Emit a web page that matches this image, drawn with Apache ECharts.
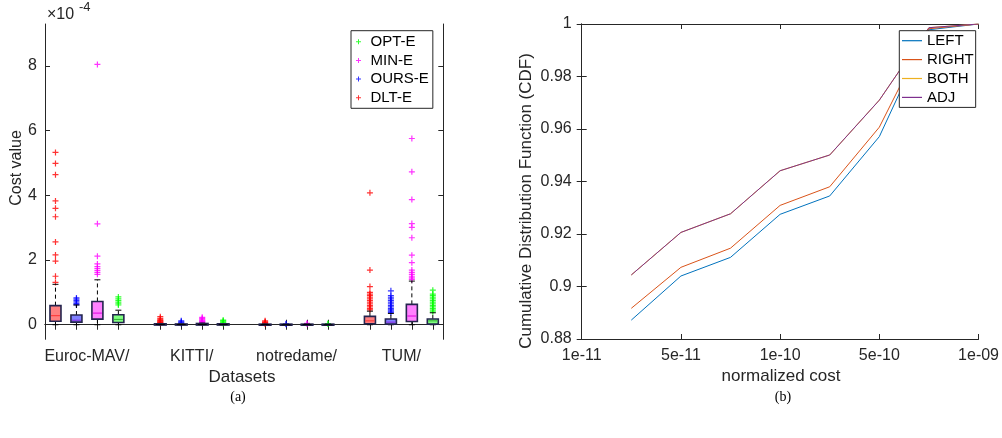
<!DOCTYPE html>
<html><head><meta charset="utf-8">
<script src="https://cdn.jsdelivr.net/npm/echarts@6/dist/echarts.min.js"></script>
<style>html,body{margin:0;padding:0;background:#fff}#c{width:1002px;height:438px}</style>
</head><body><div id="c"></div>
<script>
// ---------- Left panel (a): box plots, values in units of 1e-4 ----------
const DATASETS = ['Euroc-MAV/', 'KITTI/', 'notredame/', 'TUM/'];
const METHODS = ['DLT-E', 'OURS-E', 'MIN-E', 'OPT-E'];          // order inside each group
const LEGEND_A = ['OPT-E', 'MIN-E', 'OURS-E', 'DLT-E'];
const Y_TICKS_A = [0, 2, 4, 6, 8];
const Y_EXP_LABEL = '-4';

// [min, q1, median, q3, max] per dataset
const DLT_STATS  = [[0, 0.11, 0.28, 0.59, 1.25], [0, 0, 0.01, 0.02, 0.04], [0, 0, 0.005, 0.01, 0.02], [0, 0.03, 0.12, 0.26, 0.42]];
const OURS_STATS = [[0, 0.08, 0.14, 0.30, 0.61], [0, 0, 0.005, 0.015, 0.03], [0, 0, 0, 0.01, 0.01], [0, 0.02, 0.08, 0.18, 0.35]];
const MIN_STATS  = [[0, 0.175, 0.36, 0.72, 1.39], [0, 0, 0.01, 0.03, 0.05], [0, 0, 0.005, 0.01, 0.02], [0, 0.10, 0.27, 0.63, 1.35]];
const OPT_STATS  = [[0, 0.07, 0.165, 0.31, 0.45], [0, 0, 0.005, 0.02, 0.03], [0, 0, 0, 0.01, 0.01], [0, 0.02, 0.12, 0.18, 0.37]];

// outliers per dataset
const DLT_OUT = [
  [1.31, 1.5, 1.97, 2.16, 2.56, 3.34, 3.6, 3.83, 4.64, 4.99, 5.33],
  [0.05, 0.07, 0.09, 0.11, 0.13, 0.16, 0.2, 0.25],
  [0.03, 0.05, 0.07, 0.09, 0.12],
  [0.46, 0.5, 0.55, 0.6, 0.65, 0.7, 0.75, 0.8, 0.85, 0.9, 0.95, 1.0, 1.18, 1.69, 4.08]
];
const OURS_OUT = [
  [0.62, 0.66, 0.71, 0.75, 0.79, 0.83],
  [0.04, 0.06, 0.09, 0.12],
  [0.015, 0.03],
  [0.38, 0.42, 0.46, 0.5, 0.55, 0.6, 0.65, 0.7, 0.75, 0.8, 0.85, 0.9, 1.05]
];
const MIN_OUT = [
  [1.56, 1.62, 1.68, 1.74, 1.8, 1.88, 2.12, 3.12, 8.05],
  [0.06, 0.08, 0.1, 0.12, 0.14, 0.17, 0.2, 0.23],
  [0.03, 0.04],
  [1.4, 1.45, 1.5, 1.56, 1.62, 1.69, 1.92, 2.15, 2.69, 3.01, 3.13, 3.87, 4.73, 5.76]
];
const OPT_OUT = [
  [0.61, 0.65, 0.7, 0.75, 0.8, 0.86],
  [0.04, 0.06, 0.09, 0.12, 0.14],
  [0.02, 0.035],
  [0.4, 0.45, 0.5, 0.55, 0.6, 0.65, 0.7, 0.75, 0.8, 0.85, 0.9, 0.95, 1.07]
];

// ---------- Right panel (b): CDF curves ----------
const X_TICK_LABELS = ['1e-11', '5e-11', '1e-10', '5e-10', '1e-09'];
const X_POS = [0.5, 1, 1.5, 2, 2.5, 3, 3.5, 4];
const LEFT  = [0.8872, 0.9040, 0.9111, 0.9275, 0.9345, 0.9571, 0.9978, 1.0];
const RIGHT = [0.8917, 0.9073, 0.9146, 0.9309, 0.9380, 0.9607, 0.9982, 1.0];
const BOTH  = [0.9044, 0.9206, 0.9277, 0.9441, 0.9501, 0.9710, 0.9986, 1.0];
const ADJ   = [0.9044, 0.9206, 0.9277, 0.9441, 0.9501, 0.9710, 0.9986, 1.0];
const CDF_NAMES = ['LEFT', 'RIGHT', 'BOTH', 'ADJ'];

// ---------- styles ----------
const FONT = 'Liberation Sans, Arial, Helvetica, sans-serif';
const AX = '#262626';
const PLUS = 'path://M2,0H3V2H5V3H3V5H2V3H0V2H2Z';
const LINE_ICON = 'path://M0,0H20V1.2H0Z';
const STYLE_A = {
  'DLT-E':  { color: '#ff0000', fill: '#ff8080', med: '#ff3030' },
  'OURS-E': { color: '#0000ff', fill: '#8080ff', med: '#8a2be2' },
  'MIN-E':  { color: '#ff00ff', fill: '#ff80ff', med: '#e000e0' },
  'OPT-E':  { color: '#00ff00', fill: '#80ff80', med: '#30b030' }
};
const BORDER = '#24244e';
const LINE_COLORS = ['#0072BD', '#D95319', '#EDB120', '#7E2F8E'];

const STATS = { 'DLT-E': DLT_STATS, 'OURS-E': OURS_STATS, 'MIN-E': MIN_STATS, 'OPT-E': OPT_STATS };
const OUTS = { 'DLT-E': DLT_OUT, 'OURS-E': OURS_OUT, 'MIN-E': MIN_OUT, 'OPT-E': OPT_OUT };

const posOf = (d, m) => 1 + 5 * d + m;
const BOX_POS = [];
DATASETS.forEach((_, d) => METHODS.forEach((_, m) => BOX_POS.push(posOf(d, m))));
const GROUP_CENTER = DATASETS.map((_, d) => posOf(d, 1.5));

function makeRender(st) {
  return function (params, api) {
    const x = api.value(0);
    const pMin = api.coord([x, api.value(1)]);
    const pQ1 = api.coord([x, api.value(2)]);
    const pMed = api.coord([x, api.value(3)]);
    const pQ3 = api.coord([x, api.value(4)]);
    const pMax = api.coord([x, api.value(5)]);
    const cx = pMin[0];
    const hw = 5.5, cw = 3;
    const dash = { stroke: '#000', lineWidth: 1, lineDash: [4, 3] };
    const solid = { stroke: '#000', lineWidth: 1 };
    const h = pQ1[1] - pQ3[1];
    return {
      type: 'group', children: [
        { type: 'line', shape: { x1: cx, y1: pQ3[1], x2: cx, y2: pMax[1] }, style: dash },
        { type: 'line', shape: { x1: cx, y1: pQ1[1], x2: cx, y2: pMin[1] }, style: dash },
        { type: 'line', shape: { x1: cx - cw, y1: pMax[1], x2: cx + cw, y2: pMax[1] }, style: solid },
        { type: 'line', shape: { x1: cx - cw, y1: pMin[1], x2: cx + cw, y2: pMin[1] }, style: solid },
        { type: 'rect', shape: { x: cx - hw, y: pQ3[1], width: 2 * hw, height: Math.max(h, 0.5) },
          style: { fill: h < 2 ? '#000' : st.fill, stroke: BORDER, lineWidth: h < 2 ? 2.2 : 1.6 } },
        { type: 'line', shape: { x1: cx - hw + 1, y1: pMed[1], x2: cx + hw - 1, y2: pMed[1] }, style: { stroke: h < 2 ? '#000' : st.med, lineWidth: 1 } }
      ]
    };
  };
}

const series = [];
METHODS.forEach((name, m) => {
  const st = STYLE_A[name];
  const pts = [];
  OUTS[name].forEach((arr, d) => arr.forEach(v => pts.push([posOf(d, m), v])));
  series.push({
    type: 'scatter', name: name, xAxisIndex: 0, yAxisIndex: 0,
    symbol: PLUS, symbolSize: 6, itemStyle: { color: st.color },
    data: pts, z: 2
  });
});
METHODS.forEach((name, m) => {
  const st = STYLE_A[name];
  series.push({
    type: 'custom', name: name, xAxisIndex: 0, yAxisIndex: 0,
    renderItem: makeRender(st),
    itemStyle: { color: st.color },
    encode: { x: 0, y: [1, 2, 3, 4, 5] },
    data: STATS[name].map((s, d) => [posOf(d, m)].concat(s)),
    z: 3
  });
});
[LEFT, RIGHT, BOTH, ADJ].forEach((arr, i) => {
  series.push({
    type: 'line', name: CDF_NAMES[i], xAxisIndex: 2, yAxisIndex: 2,
    symbol: 'none', lineStyle: { color: LINE_COLORS[i], width: 1 }, itemStyle: { color: LINE_COLORS[i] },
    data: X_POS.map((x, k) => [x, arr[k]]), z: 2 + i * 0.01
  });
});

const axLine = { show: true, lineStyle: { color: AX, width: 1 } };
const tickIn = (extra) => Object.assign({ show: true, inside: true, length: 5, lineStyle: { color: AX } }, extra || {});
const lbl = (extra) => Object.assign({ color: AX, fontFamily: FONT, fontSize: 16 }, extra || {});

const option = {
  animation: false,
  backgroundColor: '#fff',
  textStyle: { fontFamily: FONT },
  grid: [
    { left: 45, right: 558.7, top: 24, bottom: 98.7 },
    { left: 581.7, right: 22, top: 24, bottom: 99 }
  ],
  xAxis: [
    { type: 'value', gridIndex: 0, position: 'bottom', min: 0.5, max: 19.5, axisLine: axLine, splitLine: { show: false },
      axisTick: tickIn({ customValues: BOX_POS }),
      axisLabel: lbl({ margin: 9, customValues: GROUP_CENTER, formatter: v => DATASETS[Math.round((v - 2.5) / 5)] }) },
    { type: 'value', gridIndex: 0, position: 'top', min: 0.5, max: 19.5, axisLine: axLine, splitLine: { show: false },
      axisTick: tickIn({ customValues: BOX_POS }), axisLabel: { show: false } },
    { type: 'value', gridIndex: 1, position: 'bottom', min: 0, max: 4, interval: 1, axisLine: axLine, splitLine: { show: false },
      axisTick: tickIn(), axisLabel: lbl({ margin: 9, formatter: v => X_TICK_LABELS[Math.round(v)] }) },
    { type: 'value', gridIndex: 1, position: 'top', min: 0, max: 4, interval: 1, axisLine: axLine, splitLine: { show: false },
      axisTick: tickIn(), axisLabel: { show: false } }
  ],
  yAxis: [
    { type: 'value', gridIndex: 0, position: 'left', min: -0.45, max: 9.3, axisLine: axLine, splitLine: { show: false },
      axisTick: tickIn({ customValues: Y_TICKS_A }), axisLabel: lbl({ margin: 8, customValues: Y_TICKS_A }) },
    { type: 'value', gridIndex: 0, position: 'right', min: -0.45, max: 9.3, axisLine: axLine, splitLine: { show: false },
      axisTick: tickIn({ customValues: Y_TICKS_A }), axisLabel: { show: false } },
    { type: 'value', gridIndex: 1, position: 'left', min: 0.88, max: 1, interval: 0.02, axisLine: axLine, splitLine: { show: false },
      axisTick: tickIn(), axisLabel: lbl({ margin: 10 }) },
    { type: 'value', gridIndex: 1, position: 'right', min: 0.88, max: 1, interval: 0.02, axisLine: axLine, splitLine: { show: false },
      axisTick: tickIn(), axisLabel: { show: false } }
  ],
  legend: [
    { orient: 'vertical', left: 351, top: 30.7, itemWidth: 14, itemHeight: 5, itemGap: 3.7,
      padding: [3.5, 4, 3, 5], borderColor: AX, borderWidth: 1, backgroundColor: '#fff',
      textStyle: { fontFamily: FONT, fontSize: 15, color: '#000', lineHeight: 15 },
      data: LEGEND_A.map(n => ({ name: n, icon: PLUS, itemStyle: { color: STYLE_A[n].color } })) },
    { orient: 'vertical', left: 899.3, top: 30.7, itemWidth: 20, itemHeight: 15, itemGap: 3.9,
      padding: [2.5, 2, 2.5, 2.7], borderColor: AX, borderWidth: 1, backgroundColor: '#fff',
      textStyle: { fontFamily: FONT, fontSize: 15, color: '#000', lineHeight: 15 },
      data: CDF_NAMES.map((n, i) => ({ name: n, icon: LINE_ICON, itemStyle: { color: LINE_COLORS[i], borderWidth: 0 } })) }
  ],
  graphic: [
    { type: 'text', x: 47, y: 15, style: { text: '×10', font: '16px ' + FONT, fill: AX, textVerticalAlign: 'middle' } },
    { type: 'text', x: 79, y: 7, style: { text: Y_EXP_LABEL, font: '13px ' + FONT, fill: AX, textVerticalAlign: 'middle' } },
    { type: 'text', x: 17, y: 168, rotation: Math.PI / 2, style: { text: 'Cost value', font: '16px ' + FONT, fill: AX, textAlign: 'center', textVerticalAlign: 'middle' } },
    { type: 'text', x: 242, y: 377, style: { text: 'Datasets', font: '17px ' + FONT, fill: AX, textAlign: 'center', textVerticalAlign: 'middle' } },
    { type: 'text', x: 526, y: 201, rotation: Math.PI / 2, style: { text: 'Cumulative Distribution Function (CDF)', font: '17px ' + FONT, fill: AX, textAlign: 'center', textVerticalAlign: 'middle' } },
    { type: 'text', x: 781, y: 376, style: { text: 'normalized cost', font: '17px ' + FONT, fill: AX, textAlign: 'center', textVerticalAlign: 'middle' } },
    { type: 'text', x: 238, y: 397, style: { text: '(a)', font: '14px Liberation Serif, Times New Roman, serif', fill: '#000', textAlign: 'center', textVerticalAlign: 'middle' } },
    { type: 'text', x: 783, y: 397, style: { text: '(b)', font: '14px Liberation Serif, Times New Roman, serif', fill: '#000', textAlign: 'center', textVerticalAlign: 'middle' } }
  ],
  series: series
};

const chart = echarts.init(document.getElementById('c'), null, { renderer: 'canvas' });
chart.setOption(option);
</script></body></html>
